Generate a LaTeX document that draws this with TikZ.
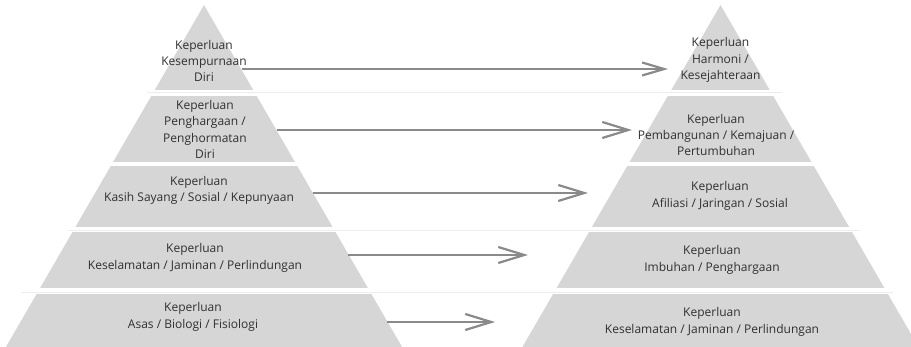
\documentclass[tikz,border=0pt]{standalone}
\usepackage{fontspec}
\setmainfont{Open Sans}
\usetikzlibrary{arrows.meta}
\definecolor{layergray}{HTML}{D6D6D6}
\definecolor{textgray}{HTML}{303030}
\definecolor{arrowgray}{HTML}{8A8A8A}
\definecolor{seamgray}{HTML}{EDEDED}

\begin{document}
\begin{tikzpicture}[x=1pt,y=-1pt,
    lbl/.style={align=center,text=textgray,font=\fontsize{12}{16.3}\selectfont},
    arr/.style={draw=arrowgray,line width=2.2pt,-{Straight Barb[length=26pt,width=16pt]}}]
    \useasboundingbox(0,0)rectangle(911,347);
    \clip(0,0)rectangle(911,347);

    \draw[seamgray,line width=0.8pt](147,92)--(782,92);
    \draw[seamgray,line width=0.8pt](68,230)--(860,230);
    \draw[seamgray,line width=0.8pt](22,292)--(893,292);

    \foreach \cx in {204,720.5}{
        \begin{scope}
            \clip(\cx,5)--(\cx+201,352)--(\cx-201,352)--cycle;
            \foreach \t/\b in {0/90,96/162,166/227,232/288,294/352}
                \fill[layergray](\cx-210,\t)rectangle(\cx+210,\b);
        \end{scope}
    }

    \node[lbl](l1)at(204,61){Keperluan\\Kesempurnaan\\Diri};
    \node[lbl](l2)at(205,129.5){Keperluan\\Penghargaan /\\Penghormatan\\Diri};
    \node[lbl](l3)at(199,190.5){Keperluan\\Kasih Sayang / Sosial / Kepunyaan};
    \node[lbl](l4)at(195,258){Keperluan\\Keselamatan / Jaminan / Perlindungan};
    \node[lbl](l5)at(193,317){Keperluan\\Asas / Biologi / Fisiologi};

    \node[lbl](r1)at(720.5,60){Keperluan\\Harmoni /\\Kesejahteraan};
    \node[lbl](r2)at(716,135){Keperluan\\Pembangunan / Kemajuan /\\Pertumbuhan};
    \node[lbl](r3)at(720,196){Keperluan\\Afiliasi / Jaringan / Sosial};
    \node[lbl](r4)at(712,260){Keperluan\\Imbuhan / Penghargaan};
    \node[lbl](r5)at(712,322){Keperluan\\Keselamatan / Jaminan / Perlindungan};

    \coordinate(a1)at(242,69);  \coordinate(b1)at(668,69);
    \coordinate(a2)at(277,130); \coordinate(b2)at(632,130);
    \coordinate(a3)at(313,193); \coordinate(b3)at(588,193);
    \coordinate(a4)at(348,255); \coordinate(b4)at(528,255);
    \coordinate(a5)at(387,322); \coordinate(b5)at(495,322);

    \draw[arr,-{Straight Barb[length=22pt,width=13pt]}](a1)--(b1);
    \draw[arr](a2)--(b2);
    \draw[arr](a3)--(b3);
    \draw[arr](a4)--(b4);
    \draw[arr](a5)--(b5);
\end{tikzpicture}
\end{document}
